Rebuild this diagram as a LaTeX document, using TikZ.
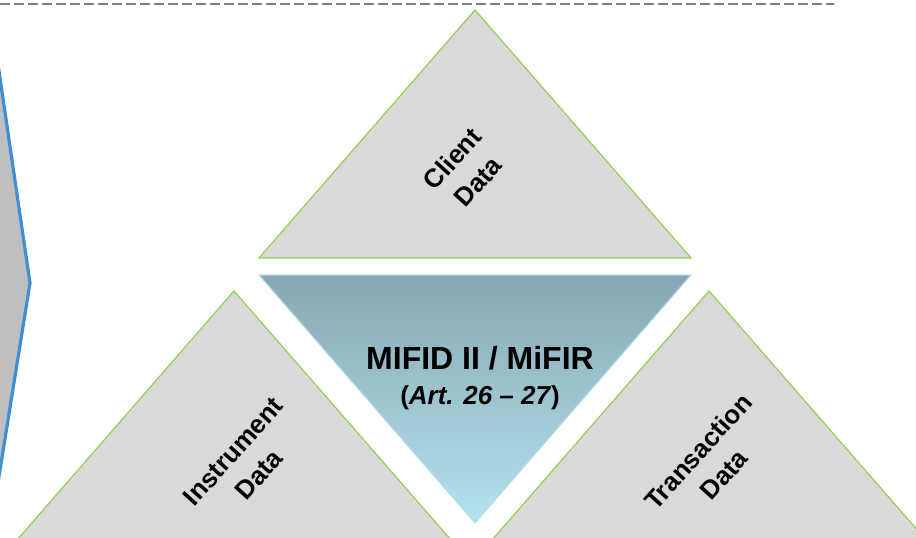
\documentclass[tikz,border=0pt]{standalone}
\usepackage{fontspec}
\setmainfont{Liberation Sans}
\usetikzlibrary{positioning}
\definecolor{triedge}{HTML}{92D050}
\definecolor{trifill}{HTML}{D9D9D9}
\definecolor{chevfill}{HTML}{BFBFBF}
\definecolor{chevedge}{HTML}{3F8FD2}
\definecolor{coretop}{HTML}{87A8B2}
\definecolor{corebot}{HTML}{B3E2EE}
\definecolor{coreedge}{HTML}{B7DDE8}
\begin{document}
\begin{tikzpicture}[x=0.75pt,y=-0.75pt,
	data tri/.style={fill=trifill,draw=triedge,line width=0.9pt,line join=miter},
	data label/.style={font=\bfseries\fontsize{19.5}{26}\selectfont,align=center,rotate=48}]
		
		\useasboundingbox (0,0) rectangle (916,538);
		\clip (0,0) rectangle (916,538);
		
		% dashed rule on top
		\draw[gray,line width=1.5pt,dash pattern=on 7.5pt off 3pt] (0,4) -- (834,4);
		
		% chevron at the left edge
		\filldraw[fill=chevfill,draw=chevedge,line width=2.4pt,line join=miter]
		(-30,-127) -- (30,283) -- (-30,657) -- (-100,657) -- (-100,-127) -- cycle;
		
		% data triangles
		\filldraw[data tri] (475,10) -- (691,258) -- (259,258) -- cycle;
		\filldraw[data tri] (234,291) -- (451,540) -- (17,540) -- cycle;
		\filldraw[data tri] (709,291) -- (926,540) -- (492,540) -- cycle;
		
		% core triangle
		\shade[top color=coretop,bottom color=corebot] (259,275) -- (691,275) -- (475,523) -- cycle;
		\draw[coreedge,line width=0.8pt] (259,275) -- (691,275) -- (475,523) -- cycle;
		
		\node[data label] (client) at (465,170) {Client\\Data};
		\node[data label] (instr) at (246,463) {Instrument\\Data};
		\node[data label] (trans) at (711,463) {Transaction\\Data};
		
		\node[font=\bfseries\fontsize{24}{26}\selectfont] (mifid) at (480,358) {MIFID II / MiFIR};
		\node[font=\bfseries\fontsize{19.5}{21}\selectfont,below=5pt of mifid] (art) {(\textit{Art. 26 – 27})};
		
\end{tikzpicture}
\end{document}
